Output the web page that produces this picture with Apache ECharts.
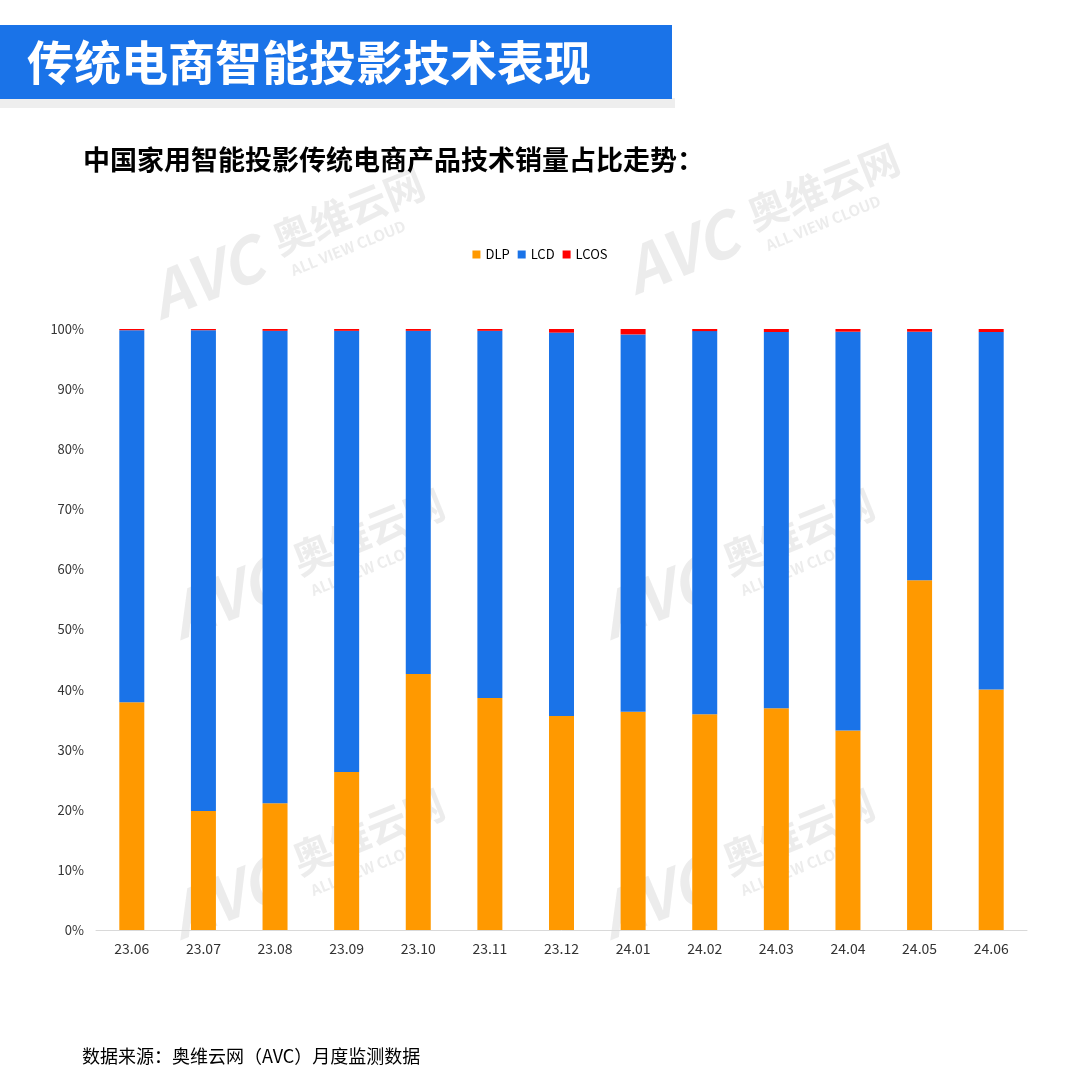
<!DOCTYPE html>
<html><head><meta charset="utf-8">
<script src="https://cdn.jsdelivr.net/npm/echarts@6/dist/echarts.min.js"></script>
<style>html,body{margin:0;padding:0;background:#fff}#c{width:1080px;height:1080px}</style>
</head><body><div id="c"></div>
<script>
const categories = ['23.06','23.07','23.08','23.09','23.10','23.11','23.12','24.01','24.02','24.03','24.04','24.05','24.06'];
const dlp  = [37.9, 19.8, 21.1, 26.3, 42.6, 38.6, 35.6, 36.3, 35.9, 36.9, 33.2, 58.2, 40.0];
const lcos = [0.2, 0.2, 0.3, 0.3, 0.3, 0.3, 0.6, 0.9, 0.35, 0.5, 0.45, 0.45, 0.5];
const lcd  = dlp.map((v, i) => +(100 - v - lcos[i]).toFixed(2));
const yTicks = [0,10,20,30,40,50,60,70,80,90,100];

const chart = echarts.init(document.getElementById('c'), null, {renderer:'canvas'});
const font = "'Noto Sans CJK SC', 'Noto Sans', sans-serif";
const wm = 'rgba(185,185,185,0.28)';

function watermark(x, y) {
  return {
    type: 'group', x: x, y: y, rotation: 22 * Math.PI / 180, z: 100, silent: true,
    children: [
      {type:'text', style:{text:'AVC', x:0, y:0, font:'italic bold 62px ' + font, fill:wm}},
      {type:'text', style:{text:'奥维云网', x:135, y:4, font:'bold 40px ' + font, fill:wm}},
      {type:'text', style:{text:'ALL VIEW CLOUD', x:140, y:50, font:'bold 15px ' + font, fill:wm}}
    ]
  };
}

chart.setOption({
  backgroundColor: '#fff',
  animation: false,
  textStyle: {fontFamily: font},
  color: ['#ff9900', '#1a73e8', '#ff0000'],
  legend: {
    top: 243, left: 'center',
    itemWidth: 8, itemHeight: 8, itemGap: 8,
    icon: 'rect',
    textStyle: {fontSize: 13, color: '#000', fontFamily: font}
  },
  grid: {left: 96, right: 53, top: 329, bottom: 150, containLabel: false},
  xAxis: {
    type: 'category', data: categories,
    axisLine: {lineStyle: {color: '#d9d9d9'}},
    axisTick: {show: false},
    axisLabel: {color: '#333', fontSize: 14, margin: 12}
  },
  yAxis: {
    type: 'value', min: 0, max: 100, interval: 10,
    axisLine: {show: false}, axisTick: {show: false},
    splitLine: {show: false},
    axisLabel: {color: '#333', fontSize: 13, margin: 12, formatter: v => yTicks.includes(v) ? v + '%' : ''}
  },
  series: [
    {name: 'DLP', type: 'bar', stack: 'a', data: dlp, barWidth: 25},
    {name: 'LCD', type: 'bar', stack: 'a', data: lcd, barWidth: 25},
    {name: 'LCOS', type: 'bar', stack: 'a', data: lcos, barWidth: 25}
  ],
  graphic: [
    {type:'rect', shape:{x:0, y:98, width:675, height:10}, style:{fill:'#eeeeee'}, z:1},
    {type:'rect', shape:{x:0, y:25, width:672, height:74}, style:{fill:'#1a73e8'}, z:2},
    {type:'text', x:27, y:62, style:{text:'传统电商智能投影技术表现', font:'bold 47px ' + font, fill:'#fff', textVerticalAlign:'middle'}, z:3},
    {type:'text', x:83, y:160, style:{text:'中国家用智能投影传统电商产品技术销量占比走势：', font:'bold 27px ' + font, fill:'#000', textVerticalAlign:'middle'}, z:3},
    {type:'text', x:82, y:1056, style:{text:'数据来源：奥维云网（AVC）月度监测数据', font:'18px ' + font, fill:'#000', textVerticalAlign:'middle'}, z:3},
    watermark(140, 270),
    watermark(615, 245),
    watermark(160, 590),
    watermark(590, 590),
    watermark(160, 890),
    watermark(590, 890)
  ]
});
</script></body></html>
